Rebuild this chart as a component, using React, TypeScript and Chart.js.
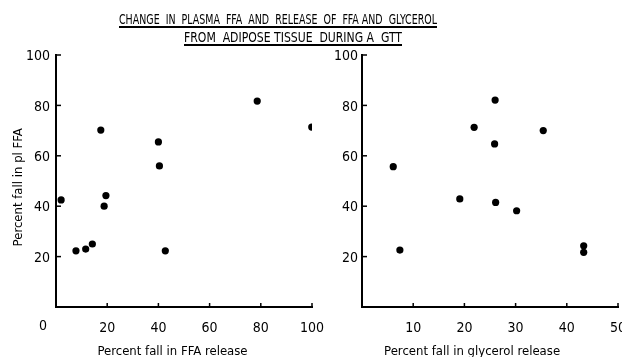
import React, { useEffect, useLayoutEffect, useRef } from 'react';
import { Chart, registerables } from 'chart.js';

Chart.register(...registerables);

const FONT = "'Liberation Sans Narrow', 'DejaVu Sans Condensed', 'Arial Narrow', sans-serif";

const titleLine1 = 'CHANGE  IN  PLASMA  FFA  AND  RELEASE  OF  FFA AND  GLYCEROL';
const titleLine2 = 'FROM  ADIPOSE TISSUE  DURING A  GTT';

// Left panel: percent fall in FFA release vs percent fall in plasma FFA
const ffaReleaseFall = [2, 7.8, 11.6, 14.2, 17.5, 18.8, 19.5, 40, 40.4, 42.7, 78.6, 99.9];
const plasmaFfaFallLeft = [42.5, 22.3, 23, 25, 70.2, 40, 44.2, 65.5, 56, 22.3, 81.7, 71.4];

// Right panel: percent fall in glycerol release vs percent fall in plasma FFA
const glycerolReleaseFall = [6.1, 7.4, 19.1, 21.9, 26.0, 25.9, 26.1, 30.2, 35.4, 43.3, 43.3];
const plasmaFfaFallRight = [55.7, 22.6, 42.9, 71.3, 82.1, 64.7, 41.5, 38.2, 70, 24.3, 21.7];

const yTickValues = [20, 40, 60, 80, 100];
const xTickValuesLeft = [20, 40, 60, 80, 100];
const xTickValuesRight = [10, 20, 30, 40, 50];

const yTitleLeft = 'Percent fall in pl FFA';
const xTitleLeft = 'Percent fall in FFA release';
const xTitleRight = 'Percent fall in glycerol release';

const decorPlugin = {
  id: 'decor',
  afterDraw(chart: any, _args: any, opts: any) {
    const { ctx, chartArea } = chart;
    const xs = chart.scales.x;
    const ys = chart.scales.y;
    ctx.save();
    ctx.strokeStyle = '#000';
    ctx.lineWidth = 1.5;
    xs.ticks.forEach((t: any) => {
      const px = xs.getPixelForValue(t.value);
      ctx.beginPath();
      ctx.moveTo(px, chartArea.bottom);
      ctx.lineTo(px, chartArea.bottom - 4);
      ctx.stroke();
    });
    ys.ticks.forEach((t: any) => {
      const py = ys.getPixelForValue(t.value);
      ctx.beginPath();
      ctx.moveTo(chartArea.left, py);
      ctx.lineTo(chartArea.left + 5, py);
      ctx.stroke();
    });
    ctx.fillStyle = '#000';
    if (opts.zeroLabel) {
      ctx.font = `14px ${FONT}`;
      ctx.textAlign = 'center';
      ctx.textBaseline = 'middle';
      ctx.fillText(opts.zeroLabel, xs.getPixelForValue(0) - 13, chartArea.bottom + 19.5);
    }
    if (opts.xTitle) {
      ctx.font = `13px ${FONT}`;
      ctx.textAlign = 'center';
      ctx.textBaseline = 'alphabetic';
      ctx.fillText(opts.xTitle, xs.getPixelForValue(opts.xTitleAt), chartArea.bottom + 48);
    }
    if (opts.yTitle) {
      ctx.font = `13px ${FONT}`;
      ctx.textAlign = 'center';
      ctx.textBaseline = 'middle';
      ctx.translate(19, ys.getPixelForValue(opts.yTitleAt));
      ctx.rotate(-Math.PI / 2);
      ctx.fillText(opts.yTitle, 0, 0);
    }
    ctx.restore();
  },
};

function makeChart(
  canvas: HTMLCanvasElement,
  xs: number[],
  ys: number[],
  xMax: number,
  xTicks: number[],
  yAxisWidth: number,
  rightPad: number,
  yLabelPad: number,
  yTitle: string | null,
  xTitle: string,
  xTitleAt: number,
  zeroLabel: string | null
) {
  const points = xs.map((x, i) => ({ x, y: ys[i] }));
  return new Chart(canvas, {
    type: 'scatter',
    data: {
      datasets: [
        {
          data: points,
          backgroundColor: '#000',
          borderColor: '#000',
          borderWidth: 0,
          pointRadius: 3.6,
        },
      ],
    },
    options: {
      animation: false,
      responsive: false,
      devicePixelRatio: 1,
      layout: { padding: { top: 55, left: 0, right: rightPad, bottom: 0 } },
      plugins: {
        legend: { display: false },
        tooltip: { enabled: false },
        decor: { xTitle, xTitleAt, zeroLabel, yTitle, yTitleAt: 47.5 },
      } as any,
      scales: {
        x: {
          type: 'linear',
          min: 0,
          max: xMax,
          grid: { display: false, drawTicks: false },
          border: { display: true, color: '#000', width: 2 },
          afterBuildTicks: (scale: any) => {
            scale.ticks = xTicks.map((v) => ({ value: v }));
          },
          afterFit: (scale: any) => {
            scale.height = 50;
            scale.paddingLeft = 0;
            scale.paddingRight = 0;
          },
          ticks: {
            color: '#000',
            padding: 13,
            maxRotation: 0,
            autoSkip: false,
            font: { family: FONT, size: 14 },
            callback: (v: any) => String(v),
          },
        },
        y: {
          type: 'linear',
          min: 0,
          max: 100,
          grid: { display: false, drawTicks: false },
          border: { display: true, color: '#000', width: 2 },
          afterBuildTicks: (scale: any) => {
            scale.ticks = yTickValues.map((v) => ({ value: v }));
          },
          afterFit: (scale: any) => {
            scale.width = yAxisWidth;
            scale.paddingTop = 0;
            scale.paddingBottom = 0;
          },
          ticks: {
            color: '#000',
            padding: yLabelPad,
            labelOffset: 1.5,
            autoSkip: false,
            font: { family: FONT, size: 14 },
            callback: (v: any) => String(v),
          },
        },
      },
    },
    plugins: [decorPlugin],
  } as any);
}

export default function App() {
  const leftRef = useRef<HTMLCanvasElement>(null);
  const rightRef = useRef<HTMLCanvasElement>(null);
  const t1Ref = useRef<HTMLDivElement>(null);
  const t2Ref = useRef<HTMLDivElement>(null);

  useLayoutEffect(() => {
    const fit = (el: HTMLDivElement | null, target: number) => {
      if (!el) return;
      const w = el.getBoundingClientRect().width;
      if (w > 0) el.style.transform = `scaleX(${target / w})`;
    };
    fit(t1Ref.current, 318);
    fit(t2Ref.current, 218);
  }, []);

  useEffect(() => {
    const c1 = makeChart(
      leftRef.current!,
      ffaReleaseFall,
      plasmaFfaFallLeft,
      100,
      xTickValuesLeft,
      56,
      18,
      6,
      yTitleLeft,
      xTitleLeft,
      45.5,
      '0'
    );
    const c2 = makeChart(
      rightRef.current!,
      glycerolReleaseFall,
      plasmaFfaFallRight,
      50,
      xTickValuesRight,
      32,
      22,
      4,
      null,
      xTitleRight,
      21.5,
      null
    );
    return () => {
      c1.destroy();
      c2.destroy();
    };
  }, []);

  const titleStyle: React.CSSProperties = {
    position: 'absolute',
    fontFamily: "'DejaVu Sans Condensed', 'DejaVu Sans', sans-serif",
    fontStretch: 'condensed',
    fontSize: 13.5,
    lineHeight: '14px',
    whiteSpace: 'pre',
    color: '#000',
    textDecoration: 'underline',
    textDecorationThickness: '1.5px',
    textUnderlineOffset: '2px',
    transformOrigin: '0 0',
  };

  return (
    <div
      style={{
        position: 'fixed',
        left: 0,
        top: 0,
        width: 622,
        height: 357,
        overflow: 'hidden',
        background: '#fff',
      }}
    >
      <canvas ref={leftRef} width={330} height={357} style={{ position: 'absolute', left: 0, top: 0 }} />
      <canvas ref={rightRef} width={310} height={357} style={{ position: 'absolute', left: 330, top: 0 }} />
      <div ref={t1Ref} style={{ ...titleStyle, left: 119, top: 12 }}>{titleLine1}</div>
      <div ref={t2Ref} style={{ ...titleStyle, left: 184, top: 30 }}>{titleLine2}</div>
    </div>
  );
}
